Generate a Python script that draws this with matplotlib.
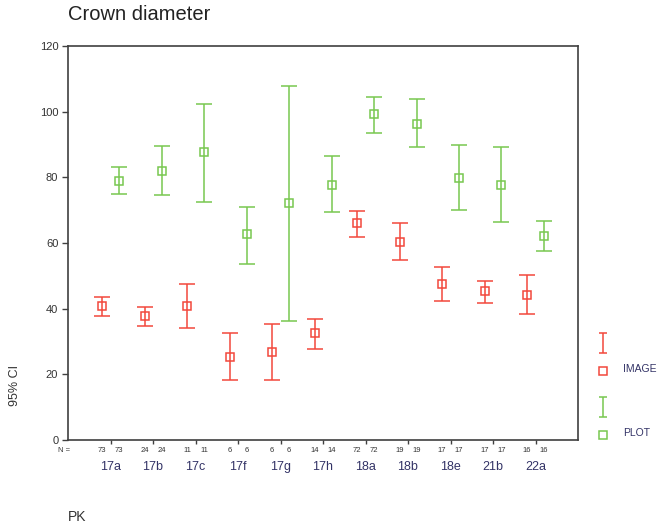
import matplotlib
matplotlib.use("Agg")
import matplotlib.pyplot as plt
import numpy as np

plt.rcParams['font.family'] = ['Liberation Sans', 'DejaVu Sans']

# --- data ---
categories = ['17a', '17b', '17c', '17f', '17g', '17h', '18a', '18b', '18e', '21b', '22a']
n_counts = [73, 24, 11, 6, 6, 14, 72, 19, 17, 17, 16]

image_mean = [40.8, 37.7, 40.8, 25.4, 26.8, 32.5, 66.0, 60.3, 47.6, 45.5, 44.2]
image_low = [37.9, 34.8, 34.2, 18.4, 18.4, 27.8, 61.9, 54.9, 42.2, 41.8, 38.5]
image_high = [43.6, 40.5, 47.5, 32.6, 35.2, 36.9, 69.7, 66.0, 52.6, 48.5, 50.2]

plot_mean = [78.9, 82.0, 87.6, 62.8, 72.2, 77.8, 99.2, 96.3, 79.9, 77.8, 62.1]
plot_low = [75.0, 74.7, 72.4, 53.6, 36.2, 69.4, 93.4, 89.2, 70.1, 66.3, 57.7]
plot_high = [83.1, 89.5, 102.4, 71.1, 107.8, 86.4, 104.6, 103.9, 89.8, 89.3, 66.6]

RED = '#f2483c'
GREEN = '#78c850'
AXIS = '#404040'
W, H = 659, 528


def draw_series(ax, x, mean, low, high, color):
    mean = np.array(mean)
    yerr = [mean - np.array(low), np.array(high) - mean]
    ax.errorbar(x, mean, yerr=yerr, fmt='s', color=color, ecolor=color,
                mfc='none', mec=color, ms=5.5, mew=1.1, elinewidth=1.1,
                capsize=6, capthick=1.1, zorder=3)


def main():
    fig = plt.figure(figsize=(W / 100, H / 100), dpi=100)
    ax = fig.add_axes([68 / W, 1 - 440 / H, 510 / W, 394 / H])

    x = np.arange(len(categories))
    off = 0.2
    draw_series(ax, x - off, image_mean, image_low, image_high, RED)
    draw_series(ax, x + off, plot_mean, plot_low, plot_high, GREEN)

    ax.set_xlim(-1, len(categories))
    ax.set_ylim(0, 120)
    ax.set_yticks(np.arange(0, 121, 20))
    ax.set_xticks(x)
    ax.set_xticklabels([])
    ax.tick_params(axis='y', direction='out', length=4, width=1, color=AXIS,
                   labelsize=8, labelcolor='#333333', pad=3)
    ax.tick_params(axis='x', direction='out', length=3, width=1, color=AXIS)
    for s in ax.spines.values():
        s.set_color(AXIS)
        s.set_linewidth(1.2)

    # N counts and category names under the axis
    for i, cat in enumerate(categories):
        for dx in (-off, off):
            ax.annotate(str(n_counts[i]), (i + dx, 0), xycoords=('data', 'axes fraction'),
                        xytext=(0, -11), textcoords='offset pixels',
                        ha='center', va='center', fontsize=5.5, color='#333333')
        ax.annotate(cat, (i, 0), xycoords=('data', 'axes fraction'),
                    xytext=(0, -27), textcoords='offset pixels',
                    ha='center', va='center', fontsize=9, color='#333366')
    fig.text(64 / W, 1 - 451 / H, 'N =', ha='center', va='center', fontsize=5.5, color='#333333')

    fig.text(68 / W, 1 - 15 / H, 'Crown diameter', ha='left', va='center', fontsize=14.5, color='#222222')
    fig.text(15 / W, 1 - 386 / H, '95% CI', rotation=90, ha='center', va='center', fontsize=9, color='#333333')
    fig.text(68 / W, 1 - 517 / H, 'PK', ha='left', va='center', fontsize=10, color='#333333')

    # legend drawn by hand, in pixel coordinates
    lg = fig.add_axes([590 / W, 1 - 450 / H, 69 / W, 130 / H])
    lg.set_xlim(590, 659)
    lg.set_ylim(450, 320)
    lg.axis('off')
    for color, y0, label in [(RED, 333, 'IMAGE'), (GREEN, 397, 'PLOT')]:
        lg.errorbar([603], [y0 + 10], yerr=[[10], [10]], fmt='none', ecolor=color,
                    elinewidth=1.1, capsize=3, capthick=1.1)
        lg.plot([603], [y0 + 38], 's', mfc='none', mec=color, ms=5.5, mew=1.1)
        lg.text(623, y0 + 36, label, ha='left', va='center', fontsize=7.5, color='#333366')

    fig.savefig('out.png', dpi=100)


if __name__ == '__main__':
    main()
